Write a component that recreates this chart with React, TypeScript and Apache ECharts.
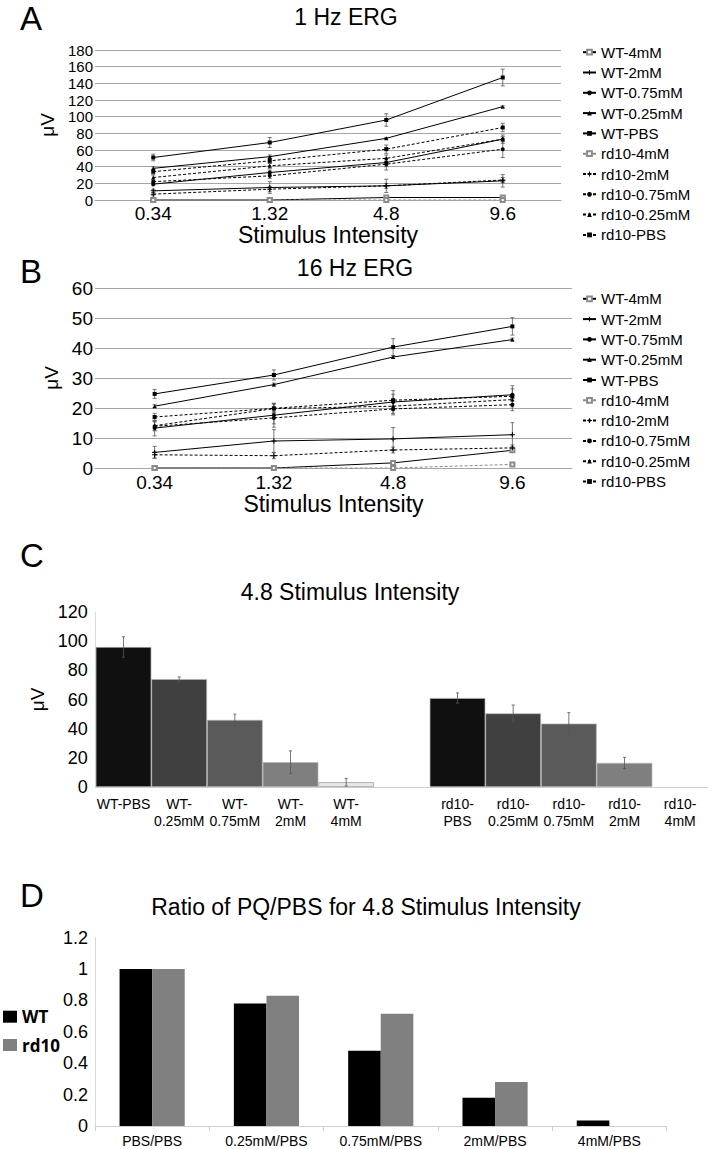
import React, { useEffect, useRef } from "react";
import * as echarts from "echarts";

// ---------- Panel A / B : line charts ----------
const intensities = ["0.34", "1.32", "4.8", "9.6"];
const seriesNames = [
  "WT-4mM", "WT-2mM", "WT-0.75mM", "WT-0.25mM", "WT-PBS",
  "rd10-4mM", "rd10-2mM", "rd10-0.75mM", "rd10-0.25mM", "rd10-PBS",
];

// 1 Hz ERG (µV)
const hz1WT4 = [0, 0, 3, 3];
const hz1WT2 = [11, 15, 17, 23];
const hz1WT075 = [19, 33, 45, 73];
const hz1WT025 = [38, 52, 74, 112];
const hz1WTPBS = [51, 69, 96, 147];
const hz1rd4 = [0, 0, 0, 0];
const hz1rd2 = [7, 13, 17, 24];
const hz1rd075 = [22, 29, 43, 61];
const hz1rd025 = [27, 41, 50, 73];
const hz1rdPBS = [34, 47, 61, 87];
// 1 Hz ERG error bars
const hz1ErrWT4 = [0, 0, 1.5, 1.5];
const hz1ErrWT2 = [2, 7, 8, 7.5];
const hz1ErrWT075 = [2, 3, 5, 3];
const hz1ErrWT025 = [2, 2, 1, 1];
const hz1ErrWTPBS = [4, 6, 7.5, 10];
const hz1ErrRd4 = [0, 0, 0, 0];
const hz1ErrRd2 = [2, 3, 3, 3];
const hz1ErrRd075 = [2, 3, 7, 10];
const hz1ErrRd025 = [3, 3, 4, 5];
const hz1ErrRdPBS = [3, 3, 5, 5];

// 16 Hz ERG (µV)
const hz16WT4 = [0, 0, 1.7, 5.9];
const hz16WT2 = [5.2, 9, 9.7, 11.1];
const hz16WT075 = [13.3, 17.6, 22, 24.4];
const hz16WT025 = [20.6, 27.8, 37, 42.8];
const hz16WTPBS = [24.7, 31, 40.3, 47.2];
const hz16rd4 = [0, 0, 0, 1.2];
const hz16rd2 = [4.4, 4.1, 6, 6.7];
const hz16rd075 = [13.9, 16.7, 19.7, 21.1];
const hz16rd025 = [14.1, 19.8, 20.6, 22.8];
const hz16rdPBS = [17, 19.9, 22.6, 23.9];
// 16 Hz ERG error bars
const hz16ErrWT4 = [0, 0, 0.5, 0.5];
const hz16ErrWT2 = [2, 3.8, 3.8, 4];
const hz16ErrWT075 = [2.6, 4, 3.8, 2];
const hz16ErrWT025 = [0.5, 0.5, 0.5, 0.5];
const hz16ErrWTPBS = [1.5, 1.7, 2.8, 2.9];
const hz16ErrRd4 = [0, 0, 0, 0.5];
const hz16ErrRd2 = [1, 1, 1, 1];
const hz16ErrRd075 = [1.5, 2, 2, 2];
const hz16ErrRd025 = [1.5, 1.5, 1.5, 1.5];
const hz16ErrRdPBS = [1.2, 1.5, 2, 3.5];

// ---------- Panel C : bars at 4.8 ----------
const cCategories = [
  "WT-PBS", "WT-\n0.25mM", "WT-\n0.75mM", "WT-\n2mM", "WT-\n4mM", "",
  "rd10-\nPBS", "rd10-\n0.25mM", "rd10-\n0.75mM", "rd10-\n2mM", "rd10-\n4mM",
];
const cValues = [96, 74, 46, 17, 3.3, null, 61, 50.5, 43.5, 16.5, 0];
const cErrors = [7, 1.5, 4, 7.8, 2.6, null, 3.5, 5.7, 7.5, 3.8, 0];

// ---------- Panel D : ratios ----------
const dCategories = ["PBS/PBS", "0.25mM/PBS", "0.75mM/PBS", "2mM/PBS", "4mM/PBS"];
const dWT = [1, 0.78, 0.48, 0.18, 0.035];
const dRd10 = [1, 0.83, 0.715, 0.28, 0];

// ---------- styles ----------
const FONT = "'Liberation Sans', Arial, sans-serif";
const plusPath = "path://M4,0H6V4H10V6H6V10H4V6H0V4H4Z";
const symbolsByDose = ["emptyRect", plusPath, "circle", "triangle", "rect"];
const cColors = ["#101010", "#404040", "#5a5a5a", "#7f7f7f", "#e6e6e6", "#fff", "#101010", "#404040", "#5a5a5a", "#7f7f7f", "#e6e6e6"];

const hz1Data = [hz1WT4, hz1WT2, hz1WT075, hz1WT025, hz1WTPBS, hz1rd4, hz1rd2, hz1rd075, hz1rd025, hz1rdPBS];
const hz1Err = [hz1ErrWT4, hz1ErrWT2, hz1ErrWT075, hz1ErrWT025, hz1ErrWTPBS, hz1ErrRd4, hz1ErrRd2, hz1ErrRd075, hz1ErrRd025, hz1ErrRdPBS];
const hz16Data = [hz16WT4, hz16WT2, hz16WT075, hz16WT025, hz16WTPBS, hz16rd4, hz16rd2, hz16rd075, hz16rd025, hz16rdPBS];
const hz16Err = [hz16ErrWT4, hz16ErrWT2, hz16ErrWT075, hz16ErrWT025, hz16ErrWTPBS, hz16ErrRd4, hz16ErrRd2, hz16ErrRd075, hz16ErrRd025, hz16ErrRdPBS];

function errorRender(capHalf: number, color: string) {
  return (params: any, api: any) => {
    const x = api.value(0);
    const v = api.value(1);
    const e = api.value(2);
    if (!e) return { type: "group", children: [] };
    const top = api.coord([x, v + e]);
    const bot = api.coord([x, Math.max(0, v - e)]);
    const st = { stroke: color, lineWidth: 0.8 };
    return {
      type: "group",
      children: [
        { type: "line", shape: { x1: top[0], y1: top[1], x2: bot[0], y2: bot[1] }, style: st },
        { type: "line", shape: { x1: top[0] - capHalf, y1: top[1], x2: top[0] + capHalf, y2: top[1] }, style: st },
        { type: "line", shape: { x1: bot[0] - capHalf, y1: bot[1], x2: bot[0] + capHalf, y2: bot[1] }, style: st },
      ],
    };
  };
}

function lineSeries(data: number[][], axis: number) {
  return seriesNames.map((name, i) => {
    const rd = i >= 5;
    const dose = i % 5;
    const color = rd && dose === 0 ? "#8a8a8a" : "#000";
    return {
      name,
      type: "line",
      xAxisIndex: axis,
      yAxisIndex: axis,
      data: data[i],
      symbol: symbolsByDose[dose],
      symbolSize: dose === 1 ? 5 : 4,
      itemStyle: { color: dose === 0 ? "#8a8a8a" : color },
      lineStyle: { color, width: 1, type: rd ? [3, 2] : "solid" },
      z: 3,
    };
  });
}

function errSeries(data: number[][], err: number[][], axis: number) {
  const pts: number[][] = [];
  data.forEach((arr, s) => arr.forEach((v, j) => pts.push([j, v, err[s][j]])));
  return {
    type: "custom",
    name: "err" + axis,
    xAxisIndex: axis,
    yAxisIndex: axis,
    data: pts,
    encode: { x: 0, y: 1 },
    renderItem: errorRender(2, "#555"),
    z: 2,
  };
}

const lineXAxis = (gridIndex: number, labelMargin: number, nameGap: number) => ({
  gridIndex,
  type: "category",
  data: intensities,
  boundaryGap: true,
  axisLine: { lineStyle: { color: "#a6a6a6" } },
  axisTick: { show: false },
  axisLabel: { fontSize: 19, color: "#000", margin: labelMargin },
  name: "Stimulus Intensity",
  nameLocation: "middle",
  nameGap,
  nameTextStyle: { fontSize: 23, color: "#000" },
});

const lineYAxis = (gridIndex: number, max: number, interval: number, fontSize: number) => ({
  gridIndex,
  type: "value",
  min: 0,
  max,
  interval,
  axisLine: { show: false },
  axisTick: { show: false },
  axisLabel: {
    fontSize, color: "#000", margin: 2,
    showMinLabel: true, showMaxLabel: true, hideOverlap: false,
  },
  splitLine: { lineStyle: { color: "#a6a6a6", width: 1 } },
  name: "μV",
  nameLocation: "middle",
  nameGap: 32,
  nameTextStyle: { fontSize: 19, color: "#000" },
});

function buildOption(): any {
  const legendCommon = {
    orient: "vertical",
    left: 582,
    itemWidth: 13,
    itemHeight: 6,
    itemGap: 5.3,
    padding: 0,
    selectedMode: false,
    data: seriesNames,
    textStyle: { fontSize: 15, lineHeight: 14, color: "#000", fontFamily: FONT },
  };
  const cData = cValues.map((v, i) => ({
    value: v,
    itemStyle: { color: cColors[i], borderColor: i === 4 || i === 10 ? "#9a9a9a" : "#b5b5b5", borderWidth: v ? 0.7 : 0 },
  }));
  const cErrData = cValues
    .map((v, i) => (v === null ? null : [i, v, cErrors[i]]))
    .filter((d) => d !== null);

  const titleStyle = { fontSize: 23, fontWeight: "normal", color: "#000", fontFamily: FONT, lineHeight: 23 };
  const letter = (t: string, x: number, y: number) => ({
    type: "text",
    x,
    y,
    style: {
      text: t, fontSize: 33, lineHeight: 33, fontFamily: FONT, fill: "#000",
      textAlign: "left", textVerticalAlign: "middle", align: "left", verticalAlign: "middle",
    },
  });

  return {
    animation: false,
    backgroundColor: "#fff",
    textStyle: { fontFamily: FONT },
    title: [
      { text: "1 Hz ERG", left: 346, top: 17, textAlign: "center", textVerticalAlign: "middle", padding: 0, textStyle: titleStyle },
      { text: "16 Hz ERG", left: 355, top: 268, textAlign: "center", textVerticalAlign: "middle", padding: 0, textStyle: titleStyle },
      { text: "4.8 Stimulus Intensity", left: 350, top: 592, textAlign: "center", textVerticalAlign: "middle", padding: 0, textStyle: titleStyle },
      { text: "Ratio of PQ/PBS for 4.8 Stimulus Intensity", left: 366, top: 907, textAlign: "center", textVerticalAlign: "middle", padding: 0, textStyle: titleStyle },
    ],
    graphic: [letter("A", 20, 18), letter("B", 20, 271), letter("C", 20, 555), letter("D", 20, 895)],
    legend: [
      { ...legendCommon, top: 44.7 },
      { ...legendCommon, top: 291.3 },
      {
        orient: "vertical",
        left: 3,
        top: 1007.7,
        itemWidth: 14,
        itemHeight: 12,
        itemGap: 10.3,
        padding: 0,
        selectedMode: false,
        icon: "rect",
        data: ["WT", "rd10"],
        textStyle: { fontSize: 17, fontWeight: "bold", lineHeight: 18, color: "#000", fontFamily: "'Open Sans', sans-serif" },
      },
    ],
    grid: [
      { left: 95, right: 151, top: 50, height: 150 },
      { left: 95, right: 140, top: 288, height: 180 },
      { left: 95.7, right: 4, top: 612, height: 175 },
      { left: 95, right: 45.5, top: 937.7, height: 188.3 },
    ],
    xAxis: [
      lineXAxis(0, 4, 23),
      lineXAxis(1, 5, 24),
      {
        gridIndex: 2,
        type: "category",
        data: cCategories,
        axisLine: { lineStyle: { color: "#d0d0d0" } },
        axisTick: { show: false },
        axisLabel: { fontSize: 14, lineHeight: 17, color: "#000", interval: 0, margin: 8 },
      },
      {
        gridIndex: 3,
        type: "category",
        data: dCategories,
        axisLine: { lineStyle: { color: "#d0d0d0" } },
        axisTick: { show: true, length: 5, lineStyle: { color: "#d0d0d0" } },
        axisLabel: { fontSize: 14, color: "#000", margin: 8 },
      },
    ],
    yAxis: [
      lineYAxis(0, 180, 20, 15),
      lineYAxis(1, 60, 10, 19),
      {
        gridIndex: 2,
        type: "value",
        min: 0,
        max: 120,
        interval: 20,
        axisLine: { show: true, lineStyle: { color: "#d9d9d9" } },
        axisTick: { show: false },
        splitLine: { show: false },
        axisLabel: { fontSize: 18, color: "#000", margin: 8, showMinLabel: true, showMaxLabel: true },
        name: "μV",
        nameLocation: "middle",
        nameGap: 38,
        nameTextStyle: { fontSize: 19, color: "#000" },
      },
      {
        gridIndex: 3,
        type: "value",
        min: 0,
        max: 1.2,
        interval: 0.2,
        axisLine: { show: true, lineStyle: { color: "#d9d9d9" } },
        axisTick: { show: false },
        splitLine: { show: false },
        axisLabel: { fontSize: 18, color: "#000", margin: 7, showMinLabel: true, showMaxLabel: true },
      },
    ],
    series: [
      ...lineSeries(hz1Data, 0),
      errSeries(hz1Data, hz1Err, 0),
      ...lineSeries(hz16Data, 1),
      errSeries(hz16Data, hz16Err, 1),
      {
        type: "bar",
        name: "cBars",
        xAxisIndex: 2,
        yAxisIndex: 2,
        data: cData,
        barWidth: "100%",
      },
      {
        type: "custom",
        name: "cErr",
        xAxisIndex: 2,
        yAxisIndex: 2,
        data: cErrData,
        encode: { x: 0, y: 1 },
        renderItem: errorRender(1.5, "#555"),
        z: 5,
      },
      {
        type: "bar",
        name: "WT",
        xAxisIndex: 3,
        yAxisIndex: 3,
        data: dWT,
        barGap: 0,
        barCategoryGap: "43%",
        itemStyle: { color: "#000" },
      },
      {
        type: "bar",
        name: "rd10",
        xAxisIndex: 3,
        yAxisIndex: 3,
        data: dRd10,
        barGap: 0,
        barCategoryGap: "43%",
        itemStyle: { color: "#808080" },
      },
    ],
  };
}

export default function App() {
  const ref = useRef<HTMLDivElement>(null);
  useEffect(() => {
    const chart = echarts.init(ref.current!, null, { renderer: "svg" });
    chart.setOption(buildOption());
    return () => chart.dispose();
  }, []);
  return (
    <div
      ref={ref}
      style={{ position: "absolute", left: 0, top: 0, width: 712, height: 1149, background: "#fff" }}
    />
  );
}
